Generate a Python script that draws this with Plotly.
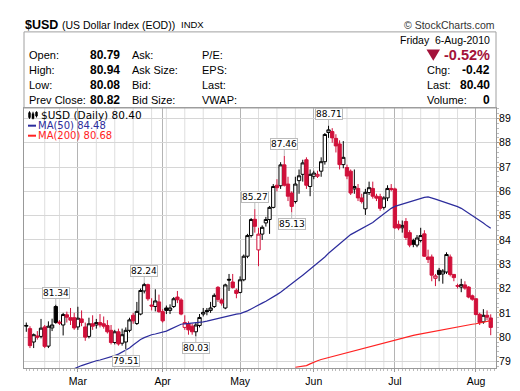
import plotly.graph_objects as go
import pandas as pd

# ---------------- data ----------------
holidays = ["2010-02-15", "2010-04-02", "2010-05-31"]
dates = [d for d in pd.bdate_range("2010-02-08", "2010-08-06")
         if d.strftime("%Y-%m-%d") not in holidays]

opens = [80.45, 80.35, 79.80, 80.05, 80.03, 80.42, 79.63, 80.38, 81.26, 80.62,
         80.50, 80.92, 80.80, 80.80, 80.42, 80.75, 80.42, 80.03, 80.55, 80.50,
         80.60, 80.55, 80.48, 80.28, 79.78, 80.22, 79.75, 79.80, 80.28, 80.90,
         80.56, 80.95, 81.90, 82.16, 81.32, 81.26, 81.45, 81.05, 81.20, 81.10,
         81.26, 81.65, 81.53, 80.40, 80.55, 80.45, 80.22, 80.48, 80.95, 81.10,
         81.10, 81.26, 82.05, 81.53, 81.20, 82.38, 82.27, 81.93, 81.84, 82.36,
         83.33, 84.18, 84.85, 83.59, 84.24, 84.70, 84.84, 85.34, 86.25, 86.23,
         87.09, 86.30, 85.93, 85.58, 86.44, 86.70, 87.30, 86.20, 86.62, 86.62,
         86.83, 87.22, 88.42, 88.46, 88.18, 87.95, 87.10, 86.98, 86.83, 86.10,
         86.12, 85.73, 85.28, 85.95, 86.12, 85.80, 85.78, 85.34, 85.73, 86.12,
         86.10, 84.64, 84.50, 84.76, 84.30, 83.98, 83.79, 83.98, 84.25, 83.30,
         83.30, 82.42, 82.75, 82.60, 82.68, 83.30, 82.58, 82.12, 82.06, 82.15,
         82.06, 81.70, 81.58, 80.94, 80.63, 80.90, 80.79]
highs = [80.60, 80.45, 80.15, 80.25, 80.75, 80.50, 80.65, 80.76, 81.34, 80.70,
         81.00, 81.05, 81.20, 81.00, 81.25, 81.10, 80.60, 80.80, 80.90, 80.75,
         80.95, 80.85, 80.70, 80.50, 80.30, 80.35, 80.35, 80.40, 80.80, 81.00,
         81.45, 82.00, 82.24, 82.20, 81.60, 81.97, 81.75, 81.15, 81.30, 81.35,
         81.65, 81.90, 81.60, 80.90, 80.65, 80.55, 80.60, 80.95, 81.20, 81.20,
         81.45, 81.80, 82.10, 81.60, 82.20, 82.60, 82.60, 82.00, 82.50, 83.40,
         84.25, 84.90, 85.27, 84.50, 84.60, 84.95, 85.40, 86.30, 86.50, 87.20,
         87.46, 86.60, 86.00, 86.60, 86.90, 87.30, 87.40, 86.90, 86.85, 86.85,
         87.40, 88.40, 88.71, 88.60, 88.35, 88.10, 88.07, 87.10, 86.90, 86.90,
         86.30, 85.90, 86.10, 86.40, 86.40, 85.90, 85.90, 85.80, 86.25, 86.30,
         86.15, 84.80, 84.80, 84.90, 84.40, 84.05, 84.20, 84.50, 84.40, 83.60,
         83.40, 82.60, 82.85, 82.80, 83.49, 83.40, 82.60, 82.20, 82.40, 82.30,
         82.10, 81.75, 81.60, 81.00, 81.15, 81.10, 80.94]
lows = [80.22, 79.55, 79.55, 79.90, 79.95, 79.55, 79.55, 80.25, 80.55, 80.50,
        80.07, 80.60, 80.50, 80.30, 80.30, 80.45, 79.85, 79.95, 80.30, 80.35,
        80.40, 80.35, 80.15, 79.70, 79.70, 79.65, 79.65, 79.51, 80.20, 80.55,
        80.50, 80.90, 81.80, 81.50, 81.10, 81.06, 81.00, 80.60, 80.95, 80.95,
        81.20, 81.40, 80.90, 80.30, 80.10, 80.10, 80.03, 80.40, 80.85, 80.90,
        81.00, 81.20, 81.45, 81.30, 81.15, 81.90, 82.00, 81.60, 81.80, 82.30,
        83.25, 84.10, 84.30, 82.92, 84.00, 84.55, 84.25, 85.30, 86.00, 86.10,
        86.20, 85.60, 85.13, 85.50, 85.90, 86.40, 86.10, 85.80, 86.50, 86.55,
        86.60, 87.10, 88.20, 88.00, 87.60, 86.90, 86.95, 86.50, 85.85, 85.90,
        85.60, 85.50, 85.03, 85.85, 85.70, 85.60, 85.20, 85.25, 85.60, 86.00,
        84.45, 84.40, 84.30, 84.00, 83.70, 83.70, 83.70, 83.90, 83.30, 83.05,
        82.30, 82.10, 82.30, 82.20, 82.60, 82.50, 82.30, 82.00, 81.85, 81.95,
        81.60, 81.50, 80.90, 80.50, 80.55, 80.70, 80.08]
closes = [80.48, 79.65, 80.10, 80.00, 80.37, 79.62, 80.45, 80.50, 80.60, 80.58,
          80.93, 80.82, 80.70, 80.38, 80.78, 80.60, 80.00, 80.55, 80.45, 80.60,
          80.50, 80.45, 80.22, 79.78, 80.22, 79.72, 80.10, 80.28, 80.71, 80.67,
          81.06, 81.92, 82.16, 81.58, 81.28, 81.49, 81.05, 80.67, 81.10, 81.20,
          81.58, 81.54, 80.95, 80.60, 80.30, 80.22, 80.50, 80.81, 81.02, 81.05,
          81.20, 81.72, 81.55, 81.40, 82.15, 82.35, 82.04, 81.80, 82.36, 83.33,
          84.18, 84.84, 84.56, 84.24, 84.52, 84.84, 85.34, 86.20, 86.15, 87.09,
          86.25, 85.80, 85.38, 86.30, 86.64, 87.17, 86.25, 86.70, 86.75, 86.70,
          87.22, 88.34, 88.53, 88.20, 87.87, 87.10, 87.40, 86.63, 85.93, 86.20,
          85.73, 85.58, 85.96, 86.15, 85.80, 85.72, 85.30, 85.73, 86.12, 86.08,
          84.50, 84.49, 84.60, 84.10, 83.79, 83.82, 84.08, 84.18, 83.33, 83.20,
          82.55, 82.52, 82.58, 82.72, 83.40, 82.58, 82.45, 82.10, 82.16, 82.02,
          81.65, 81.56, 80.93, 80.60, 80.90, 80.82, 80.40]

ma50_start = 13
ma50 = [78.70, 78.78, 78.83, 78.88, 78.94, 79.00, 79.03, 79.06, 79.10, 79.14,
        79.18, 79.24, 79.30, 79.38, 79.45, 79.55, 79.68, 79.80, 79.90, 79.98,
        80.05, 80.10, 80.13, 80.16, 80.20, 80.25, 80.32, 80.40, 80.47, 80.53,
        80.55, 80.56, 80.57, 80.58, 80.60, 80.63, 80.66, 80.70, 80.73, 80.77,
        80.82, 80.86, 80.89, 80.92, 80.95, 80.97, 81.02, 81.08, 81.16, 81.25,
        81.33, 81.40, 81.48, 81.56, 81.65, 81.75, 81.85, 81.96, 82.07, 82.18,
        82.30, 82.43, 82.55, 82.67, 82.80, 82.92, 83.05, 83.18, 83.30, 83.45,
        83.58, 83.72, 83.86, 84.00, 84.12, 84.22, 84.30, 84.38, 84.45, 84.53,
        84.62, 84.72, 84.84, 84.96, 85.08, 85.20, 85.30, 85.38, 85.43, 85.48,
        85.52, 85.57, 85.62, 85.66, 85.71, 85.75, 85.77, 85.74, 85.68, 85.63,
        85.58, 85.54, 85.48, 85.43, 85.37, 85.30, 85.20, 85.10, 85.02, 84.92,
        84.82, 84.70, 84.58, 84.48]
ma200_start = 73
ma200 = [78.76, 78.79, 78.81, 78.83, 78.90, 78.98, 79.03, 79.08, 79.12, 79.16,
         79.21, 79.25, 79.29, 79.33, 79.36, 79.40, 79.44, 79.48, 79.52, 79.56,
         79.60, 79.64, 79.68, 79.72, 79.76, 79.80, 79.84, 79.88, 79.93, 79.98,
         80.01, 80.04, 80.07, 80.10, 80.13, 80.16, 80.19, 80.22, 80.25, 80.28,
         80.31, 80.34, 80.37, 80.40, 80.42, 80.45, 80.48, 80.50, 80.53, 80.55,
         80.58, 80.61, 80.65, 80.68]

high_labels = [8, 32, 62, 70, 82]
low_labels = [27, 46, 72]

# ---------------- styling ----------------
RED = "#d0103a"
BLUE = "#2c2c9c"
MARED = "#ff2222"
W, H = 520, 391
L, R, T, B = 16, 32, 100, 16
PW, PH = W - L - R, H - T - B


def px(x):
    return (x - L) / PW


def py(y):
    return (H - B - y) / PH


n = len(closes)
xs = list(range(n))
black = [i for i in xs if i == 0 or closes[i] >= closes[i - 1]]
red = [i for i in xs if i not in black]

fig = go.Figure()


def candles(idx, color):
    return go.Candlestick(
        x=idx,
        open=[opens[i] for i in idx], high=[highs[i] for i in idx],
        low=[lows[i] for i in idx], close=[closes[i] for i in idx],
        increasing=dict(line=dict(color=color, width=1), fillcolor="white"),
        decreasing=dict(line=dict(color=color, width=1), fillcolor=color),
        whiskerwidth=0, hoverinfo="skip", showlegend=False)


fig.add_trace(go.Scatter(x=list(range(ma200_start, ma200_start + len(ma200))), y=ma200,
                         mode="lines", line=dict(color=MARED, width=1.2), hoverinfo="skip"))
fig.add_trace(go.Scatter(x=list(range(ma50_start, ma50_start + len(ma50))), y=ma50,
                         mode="lines", line=dict(color=BLUE, width=1.2), hoverinfo="skip"))
fig.add_trace(candles(black, "black"))
fig.add_trace(candles(red, RED))

# month ticks and weekly grid
month_idx = [i for i in range(1, n) if dates[i].month != dates[i - 1].month]
month_txt = [dates[i].strftime("%b") for i in month_idx]
week_idx = [i for i in range(1, n) if dates[i].weekday() < dates[i - 1].weekday()
            and i not in month_idx]

shapes = []
for i in week_idx:
    shapes.append(dict(type="line", xref="x", yref="paper", x0=i, x1=i, y0=0, y1=1,
                       line=dict(color="#dedede", width=1), layer="below"))
# header box
shapes.append(dict(type="rect", xref="paper", yref="paper", x0=px(16), x1=px(488),
                   y0=py(100), y1=py(19.5), line=dict(color="#a0a0a0", width=1)))
# down triangle
shapes.append(dict(type="path", xref="paper", yref="paper",
                   path=f"M {px(418.5)} {py(38)} L {px(432)} {py(38)} L {px(425.3)} {py(50)} Z",
                   fillcolor="#a3123a", line=dict(width=0)))
# legend samples
shapes.append(dict(type="line", xref="paper", yref="paper", x0=px(20), x1=px(28),
                   y0=py(118.7), y1=py(118.7), line=dict(color=BLUE, width=2)))
shapes.append(dict(type="line", xref="paper", yref="paper", x0=px(20), x1=px(28),
                   y0=py(129.3), y1=py(129.3), line=dict(color=MARED, width=2)))
# small candle icon
for (x0, x1, yb0, yb1, yw0, yw1) in [(20.5, 22.5, 105, 110, 103.5, 111.5),
                                     (24, 26, 106, 111, 104, 112),
                                     (27.5, 29.5, 104.5, 108.5, 103.5, 110)]:
    shapes.append(dict(type="line", xref="paper", yref="paper", x0=px((x0 + x1) / 2),
                       x1=px((x0 + x1) / 2), y0=py(yw0), y1=py(yw1),
                       line=dict(color="black", width=1)))
    shapes.append(dict(type="rect", xref="paper", yref="paper", x0=px(x0), x1=px(x1),
                       y0=py(yb0), y1=py(yb1), fillcolor="black",
                       line=dict(color="black", width=0.5)))

ann = []


def text(x, y, s, size=11, color="black", anchor="left", family="Liberation Sans, Arial"):
    ann.append(dict(xref="paper", yref="paper", x=px(x), y=py(y), text=s, showarrow=False,
                    xanchor=anchor, yanchor="middle", font=dict(size=size, color=color, family=family),
                    borderpad=0))


text(16, 11.7, "<b>$USD</b>", 12.5)
text(53, 11.7, "(US Dollar Index (EOD))", 10.5)
text(171.5, 12, "INDX", 9.5)
text(488, 12, "© StockCharts.com", 10.5, "#333", "right")

rows_y = [44, 60.3, 76, 91.7]
prev_close = closes[-2]
for lab, val, y in zip(["Open:", "High:", "Low:", "Prev Close:"],
                       [opens[-1], highs[-1], lows[-1], prev_close], rows_y):
    text(20, y, lab, 11)
    text(113, y, f"<b>{val:.2f}</b>", 12, anchor="right")
for lab, y in zip(["Ask:", "Ask Size:", "Bid:", "Bid Size:"], rows_y):
    text(123, y, lab, 11)
for lab, y in zip(["P/E:", "EPS:", "Last:", "VWAP:"], rows_y):
    text(193, y, lab, 11)

d = dates[-1]
chg = closes[-1] - prev_close
pct = chg / prev_close * 100
text(483, 28.3, f"{d:%A}&nbsp; {d.day}-{d:%b-%Y}", 10.5, anchor="right")
text(483, 44, f"<b>{pct:.2f}%</b>", 14.5, "#a3123a", "right")
for lab, val, y in zip(["Chg:", "Last:", "Volume:"],
                       [f"{chg:.2f}", f"{closes[-1]:.2f}", "0"], rows_y[1:]):
    text(418, y, lab, 11)
    text(483, y, f"<b>{val}</b>", 12, anchor="right")

LEGF = "DejaVu Sans, Verdana"
text(31.5, 107.7, f"$USD (Daily) {closes[-1]:.2f}", 10.5, "black", family=LEGF)
text(29, 119, f"MA(50) {ma50[-1]:.2f}", 10, BLUE, family=LEGF)
text(29, 129.5, f"MA(200) {ma200[-1]:.2f}", 10, MARED, family=LEGF)

for i in high_labels:
    ann.append(dict(x=i, y=highs[i], xref="x", yref="y", text=f"{highs[i]:.2f}",
                    showarrow=True, ax=0, ay=-12, arrowhead=0, arrowwidth=1,
                    arrowcolor="#bbbbbb", bordercolor="#bbbbbb", borderwidth=1, borderpad=0,
                    bgcolor="white", font=dict(size=9, family=LEGF, color="black")))
for i in low_labels:
    ann.append(dict(x=i, y=lows[i], xref="x", yref="y", text=f"{lows[i]:.2f}",
                    showarrow=True, ax=0, ay=12, arrowhead=0, arrowwidth=1,
                    arrowcolor="#bbbbbb", bordercolor="#bbbbbb", borderwidth=1, borderpad=0,
                    bgcolor="white", font=dict(size=9, family=LEGF, color="black")))

fig.update_layout(
    width=W, height=H, margin=dict(l=L, r=R, t=T, b=B),
    paper_bgcolor="white", plot_bgcolor="white", showlegend=False,
    font=dict(family="Liberation Sans, Arial", size=10, color="black"),
    shapes=shapes, annotations=ann, boxgap=0.1, boxgroupgap=0,
    xaxis=dict(range=[-0.62, 127.43], tickmode="array", tickvals=month_idx, ticktext=month_txt,
               showgrid=True, gridcolor="#b4b4b4", gridwidth=1, zeroline=False,
               showline=True, linecolor="#999999", mirror=True,
               ticks="outside", ticklen=3, tickcolor="#999999",
               minor=dict(tickmode="linear", tick0=0, dtick=1, ticks="outside", ticklen=2,
                          tickcolor="#bbbbbb", showgrid=False),
               tickfont=dict(size=10.5), rangeslider=dict(visible=False), fixedrange=True),
    yaxis=dict(range=[78.73, 89.43], side="right", tick0=79, dtick=1,
               showgrid=True, gridcolor="#d6d6d6", zeroline=False,
               showline=True, linecolor="#999999", mirror=True,
               ticks="outside", ticklen=2, tickcolor="#999999",
               ticklabelstandoff=-2,
               minor=dict(tick0=79, dtick=0.2, ticks="outside", ticklen=2,
                          tickcolor="#bbbbbb", showgrid=False),
               tickfont=dict(size=10.5), fixedrange=True),
)

fig.write_html("out.html")
